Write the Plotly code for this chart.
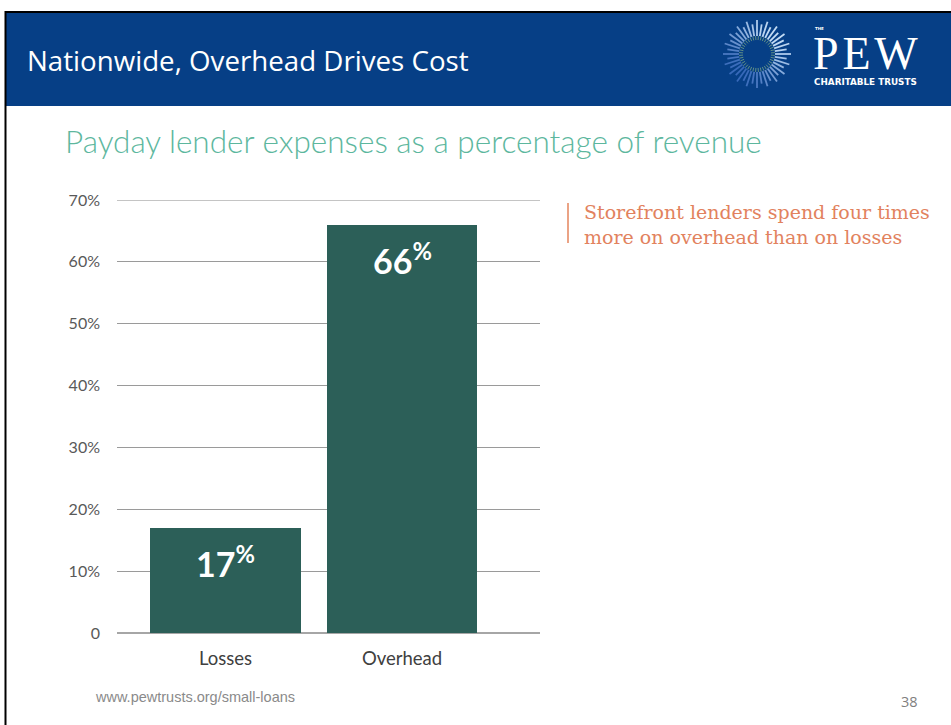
import math
import plotly.graph_objects as go

# ---- data ----
categories = ["Losses", "Overhead"]
expense_share = [17, 66]          # % of revenue
y_tick_values = [0, 10, 20, 30, 40, 50, 60, 70]
y_tick_labels = ["0", "10%", "20%", "30%", "40%", "50%", "60%", "70%"]

# ---- page geometry (pixels) ----
W, H = 951, 725
PL, PR, PT, PB = 117, 540, 200, 633   # plot area edges


def px(x):
    return (x - PL) / (PR - PL)


def py(y):
    return (PB - y) / (PB - PT)


BAR = "#2c5f58"
BLUE = "#063f86"
TEAL = "#5db79e"
ORANGE = "#e2825e"
GREY = "#595959"

xpos = list(range(len(categories)))

fig = go.Figure(
    go.Bar(
        x=xpos,
        y=expense_share,
        width=0.855,
        marker=dict(color=BAR, line=dict(width=0)),
        hoverinfo="skip",
    )
)

shapes = []
annotations = []

# slide header band and border
shapes.append(dict(type="rect", xref="paper", yref="paper", layer="below",
                   x0=px(6), x1=px(W + 5), y0=py(106), y1=py(12),
                   fillcolor=BLUE, line=dict(width=0)))
shapes.append(dict(type="line", xref="paper", yref="paper",
                   x0=px(5), x1=px(W + 5), y0=py(12), y1=py(12),
                   line=dict(color="#000000", width=2)))
shapes.append(dict(type="line", xref="paper", yref="paper",
                   x0=px(5.5), x1=px(5.5), y0=py(11), y1=py(H + 5),
                   line=dict(color="#000000", width=2)))

# top gridline at 70%
shapes.append(dict(type="line", xref="paper", yref="y", layer="below",
                   x0=0, x1=1, y0=70, y1=70,
                   line=dict(color="#c4c4c4", width=2)))

# logo: radiating sunburst, brighter toward the upper right
cx, cy = 757, 54
n_rays = 40
for i in range(n_rays):
    a = 2 * math.pi * i / n_rays
    r0 = 18
    r1 = 34 if i % 2 == 0 else 30
    glow = 0.5 + 0.5 * math.cos(a + math.pi / 4)   # 1 at upper right
    c = (int(55 + 140 * glow), int(105 + 115 * glow), int(185 + 60 * glow))
    shapes.append(dict(type="line", xref="paper", yref="paper",
                       x0=px(cx + r0 * math.cos(a)), y0=py(cy + r0 * math.sin(a)),
                       x1=px(cx + r1 * math.cos(a)), y1=py(cy + r1 * math.sin(a)),
                       line=dict(color=f"rgb{c}", width=1.8)))
    b = a + math.pi / n_rays
    shapes.append(dict(type="line", xref="paper", yref="paper",
                       x0=px(cx + 14 * math.cos(b)), y0=py(cy + 14 * math.sin(b)),
                       x1=px(cx + 18 * math.cos(b)), y1=py(cy + 18 * math.sin(b)),
                       line=dict(color="#5f8f86", width=1)))

annotations += [
    dict(text="THE", x=px(813), y=py(29), xref="paper", yref="paper",
         xanchor="left", yanchor="middle", showarrow=False,
         font=dict(family="DejaVu Sans", size=4, color="#ffffff", weight="bold")),
    dict(text="P\u200aE\u200aW", x=px(811), y=py(53), xref="paper", yref="paper",
         xanchor="left", yanchor="middle", showarrow=False,
         font=dict(family="Liberation Serif", size=46, color="#ffffff")),
    dict(text="CHARITABLE TRUSTS", x=px(812), y=py(82), xref="paper", yref="paper",
         xanchor="left", yanchor="middle", showarrow=False,
         font=dict(family="DejaVu Sans", size=8.8, color="#ffffff", weight="bold")),
]

# header title and subtitle
annotations += [
    dict(text="Nationwide, Overhead Drives Cost", x=px(25), y=py(60),
         xref="paper", yref="paper", xanchor="left", yanchor="middle",
         showarrow=False,
         font=dict(family="Open Sans", size=27.7, color="#ffffff")),
    dict(text="Payday lender expenses as a percentage of revenue", x=px(63), y=py(141),
         xref="paper", yref="paper", xanchor="left", yanchor="middle",
         showarrow=False,
         font=dict(family="Lato", size=31.5, color=TEAL, weight=300)),
]

# callout note
shapes.append(dict(type="line", xref="paper", yref="paper",
                   x0=px(568), x1=px(568), y0=py(203), y1=py(243),
                   line=dict(color="#eba385", width=2)))
annotations.append(
    dict(text="Storefront lenders spend four times<br>more on overhead than on losses",
         x=px(582), y=py(224), xref="paper", yref="paper",
         xanchor="left", yanchor="middle", align="left", showarrow=False,
         font=dict(family="DejaVu Serif", size=19, color=ORANGE)))

# value labels inside bars
for xi, v in zip(xpos, expense_share):
    annotations.append(
        dict(text=f"<b>{v}<sup>%</sup></b>", x=xi, y=v, xref="x", yref="y",
             xanchor="center", yanchor="top", yshift=-10, showarrow=False,
             font=dict(family="Lato", size=34, color="#ffffff", weight=900)))

# footer
annotations += [
    dict(text="www.pewtrusts.org/small-loans", x=px(93), y=py(697),
         xref="paper", yref="paper", xanchor="left", yanchor="middle",
         showarrow=False,
         font=dict(family="Liberation Sans", size=14.5, color="#8a8a8a")),
    dict(text="38", x=px(920), y=py(701), xref="paper", yref="paper",
         xanchor="right", yanchor="middle", showarrow=False,
         font=dict(family="Open Sans", size=14.5, color="#7f7f7f")),
]

fig.update_layout(
    width=W, height=H,
    margin=dict(l=PL, r=W - PR, t=PT, b=H - PB, pad=0),
    paper_bgcolor="#ffffff", plot_bgcolor="#ffffff",
    showlegend=False,
    bargap=0,
    shapes=shapes,
    annotations=annotations,
    xaxis=dict(
        range=[-0.615, 1.782],
        tickmode="array", tickvals=xpos, ticktext=categories,
        showgrid=False, zeroline=False, showline=False,
        ticks="", ticklabelstandoff=12,
        tickfont=dict(family="Lato", size=18.5, color="#404040"),
        fixedrange=True,
    ),
    yaxis=dict(
        range=[0, 70],
        tickmode="array", tickvals=y_tick_values, ticktext=y_tick_labels,
        showgrid=True, gridcolor="#9a9a9a", gridwidth=1,
        zeroline=True, zerolinecolor="#a6a6a6", zerolinewidth=2,
        showline=False, ticks="", ticklabelstandoff=16,
        tickfont=dict(family="Lato", size=16, color=GREY),
        fixedrange=True,
    ),
)

fig.write_html("out.html")
